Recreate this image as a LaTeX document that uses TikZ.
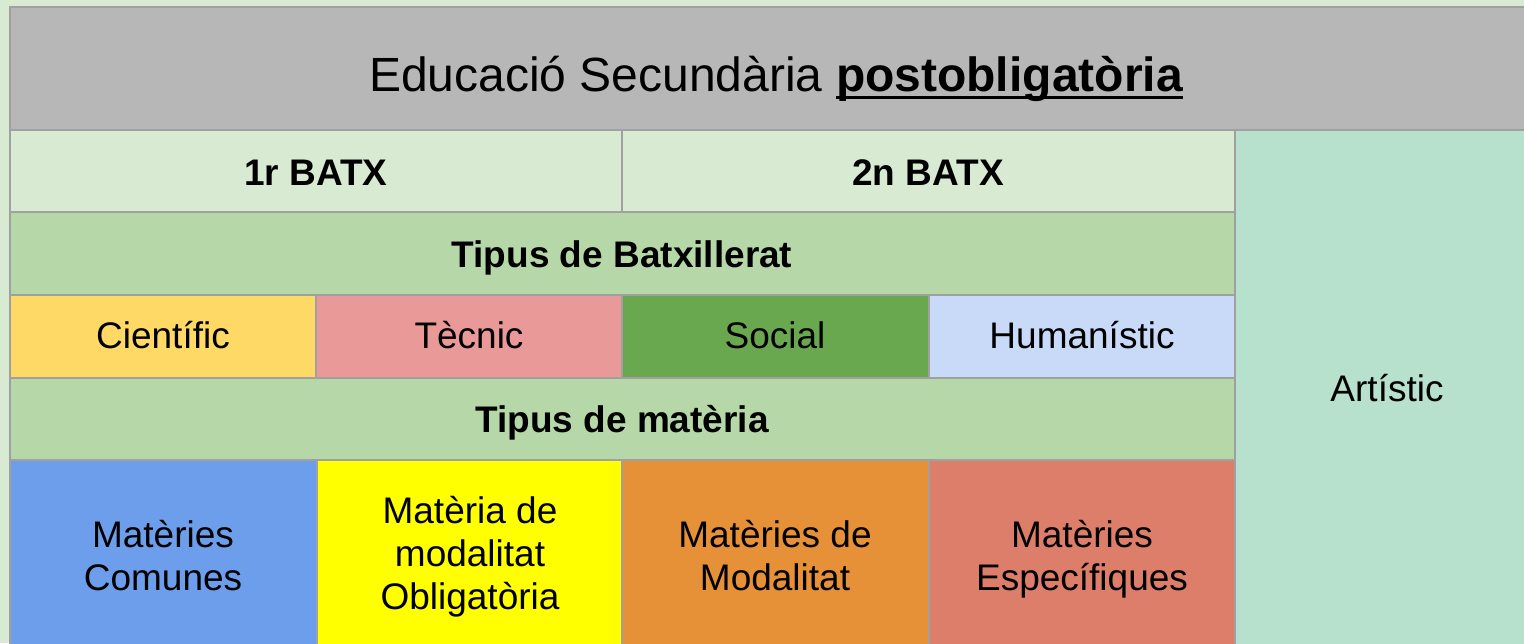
\documentclass[tikz,border=0pt]{standalone}
\usepackage{fontspec}
\setmainfont{Liberation Sans}
\newsavebox\ulwordbox
\newcommand\ulword[1]{\sbox\ulwordbox{#1}\rlap{\rule[-6pt]{\wd\ulwordbox}{2.25pt}}\usebox\ulwordbox}
\definecolor{bgg}{HTML}{D9EAD3}
\definecolor{hdr}{HTML}{B7B7B7}
\definecolor{grn}{HTML}{B6D7A8}
\definecolor{brd}{HTML}{A0A0A0}
\definecolor{cien}{HTML}{FFD966}
\definecolor{tecn}{HTML}{EA9999}
\definecolor{soc}{HTML}{6AA84F}
\definecolor{hum}{HTML}{C9DAF8}
\definecolor{art}{HTML}{B7E1CD}
\definecolor{com}{HTML}{6D9EEB}
\definecolor{obl}{HTML}{FFFF00}
\definecolor{mod}{HTML}{E69138}
\definecolor{esp}{HTML}{DD7E6B}
\tikzset{
  cell/.style={draw=brd, line width=1.3pt},
  txt/.style={font=\fontsize{27.75}{32.25}\selectfont, align=center, inner sep=0pt, text=black},
  btxt/.style={txt, font=\fontsize{27.75}{32.25}\selectfont\bfseries},
}
\begin{document}
\begin{tikzpicture}[x=0.75pt, y=-0.75pt]
\useasboundingbox (0,0) rectangle (1524,643);
\clip (0,0) rectangle (1524,643);
\fill[bgg] (0,0) rectangle (1524,643);
% header
\path[cell, fill=hdr] (10,7) rectangle (1560,130);
\node[txt, font=\fontsize{36}{42}\selectfont, anchor=base] (title) at (776,91) {Educació Secundària \ulword{\textbf{postobligatòria}}};
% row 1
\path[cell, fill=bgg] (10,130) rectangle (622,212);
\path[cell, fill=bgg] (622,130) rectangle (1235,212);
\node[btxt, anchor=base] (b1) at (316,185) {1r BATX};
\node[btxt, anchor=base] (b2) at (928,185) {2n BATX};
% artistic
\path[cell, fill=art] (1235,130) rectangle (1560,660);
\node[txt, anchor=base] (art) at (1387,401) {Artístic};
% tipus batx
\path[cell, fill=grn] (10,212) rectangle (1235,295);
\node[btxt, anchor=base] (tb) at (622,267) {Tipus de Batxillerat};
% row 3
\path[cell, fill=cien] (10,295) rectangle (316,378);
\path[cell, fill=tecn] (316,295) rectangle (622,378);
\path[cell, fill=soc] (622,295) rectangle (929,378);
\path[cell, fill=hum] (929,295) rectangle (1235,378);
\node[txt, anchor=base] (cien) at (163,348) {Científic};
\node[txt, anchor=base] (tec) at (469,348) {Tècnic};
\node[txt, anchor=base] (soc) at (775,348) {Social};
\node[txt, anchor=base] (hum) at (1082,348) {Humanístic};
% tipus materia
\path[cell, fill=grn] (10,378) rectangle (1235,460);
\node[btxt, anchor=base] (tm) at (622,432) {Tipus de matèria};
% bottom
\path[cell, fill=com] (10,460) rectangle (317,660);
\path[cell, fill=obl] (317,460) rectangle (622,660);
\path[cell, fill=mod] (622,460) rectangle (929,660);
\path[cell, fill=esp] (929,460) rectangle (1235,660);
\node[txt] (mc) at (163,556) {Matèries\\Comunes};
\node[txt] (mo) at (470,557) {Matèria de\\modalitat\\Obligatòria};
\node[txt] (mm) at (775,556) {Matèries de\\Modalitat};
\node[txt] (me) at (1082,559) {Matèries\\Específiques};
\end{tikzpicture}
\end{document}
